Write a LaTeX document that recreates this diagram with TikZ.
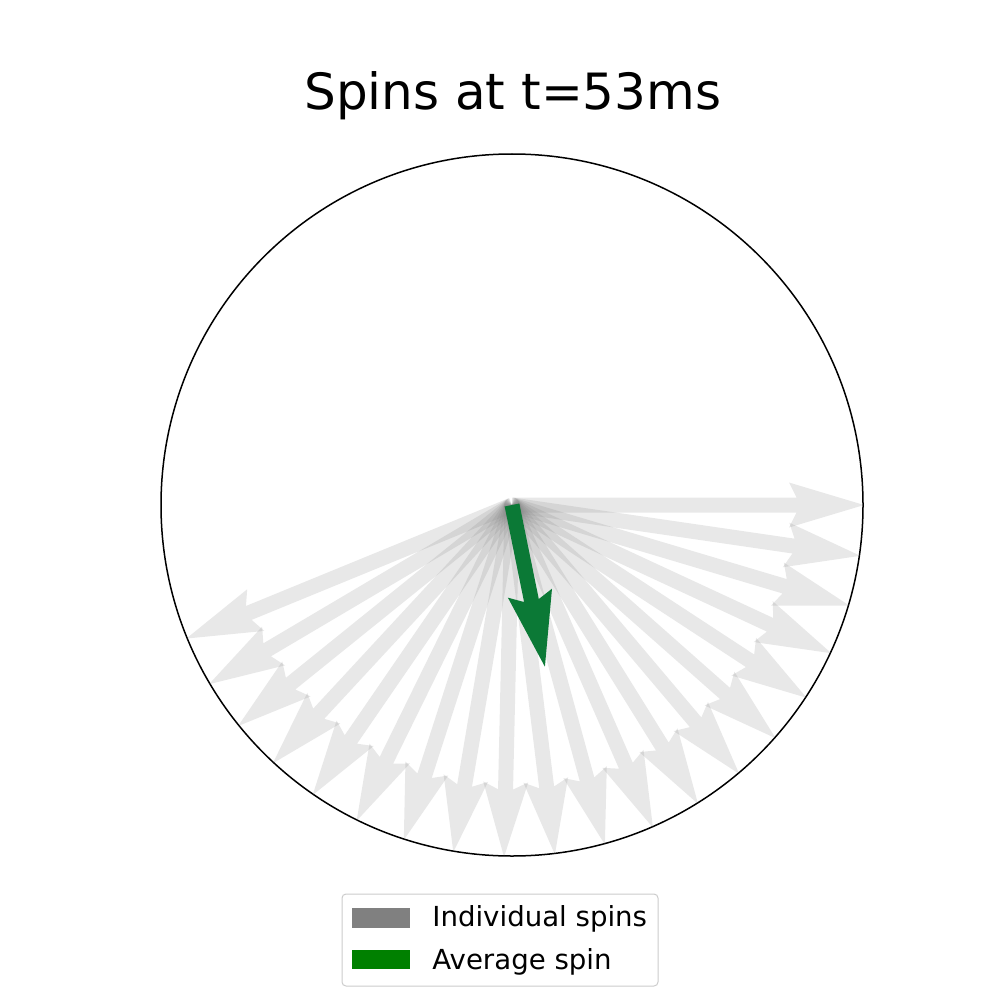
\documentclass[tikz,border=0pt]{standalone}
\usepackage{fontspec}
\setmainfont{DejaVu Sans}
\definecolor{avggreen}{RGB}{11,121,54}
\definecolor{legendedge}{RGB}{204,204,204}
\tikzset{
  spinshape/.style={fill=gray, fill opacity=0.18},
  avgshape/.style={fill=avggreen},
  legendbox/.style={draw=legendedge, line width=0.5pt, fill=white, rounded corners=2pt},
  legendtext/.style={font=\fontsize{13.8}{16}\selectfont, anchor=base west, inner sep=0pt},
}
% quiver-like arrow polygon of length #1 (shaft width 15)
\newcommand{\quiverpoly}[1]{(0,-7.5) -- ({#1-67.5},-7.5) -- ({#1-75},-22.5) -- (#1,0) -- ({#1-75},22.5) -- ({#1-67.5},7.5) -- (0,7.5) -- cycle}
\begin{document}
\begin{tikzpicture}[x=0.5pt, y=-0.5pt]
\useasboundingbox (0,0) rectangle (1000,1000);
\fill[white] (0,0) rectangle (1000,1000);

\node[font=\fontsize{25}{30}\selectfont, anchor=base, inner sep=0pt] (title) at (512.8,110) {Spins at t=53ms};

\coordinate (origin) at (512,505);
\draw[line width=0.75pt, black] (origin) circle[radius=351];

\foreach \k in {0,...,19}{
  \fill[spinshape, shift={(origin)}, rotate={-8.3*\k}] \quiverpoly{352};
}
\fill[avgshape, shift={(origin)}, rotate={-78.5}] \quiverpoly{165};

\draw[legendbox] (342,894) rectangle (658,986);
\fill[gray] (352,908) rectangle (410,928);
\fill[green!50!black] (352,950) rectangle (410,969);
\node[legendtext] (lgind) at (432,926) {Individual spins};
\node[legendtext] (lgavg) at (432,969) {Average spin};
\end{tikzpicture}
\end{document}
